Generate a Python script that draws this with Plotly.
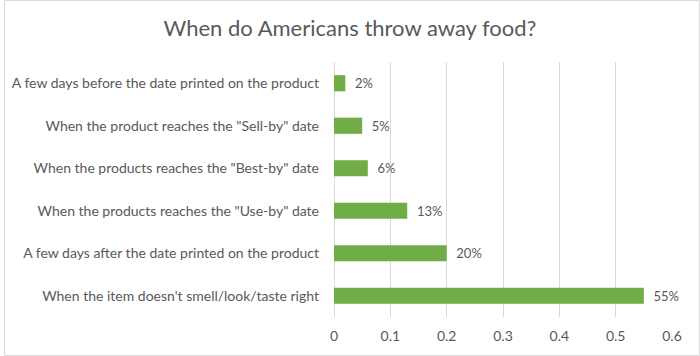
import plotly.graph_objects as go

categories = [
    "When the item doesn't smell/look/taste right",
    "A few days after the date printed on the product",
    'When the products reaches the "Use-by" date',
    'When the products reaches the "Best-by" date',
    'When the product reaches the "Sell-by" date',
    "A few days before the date printed on the product",
]
values = [0.55, 0.20, 0.13, 0.06, 0.05, 0.02]
labels = ["55%", "20%", "13%", "6%", "5%", "2%"]
tick_vals = [0, 0.1, 0.2, 0.3, 0.4, 0.5, 0.6]
tick_text = ["0", "0.1", "0.2", "0.3", "0.4", "0.5", "0.6"]

W, H = 700, 356
L, R, T, B = 332, 28, 62, 39
pw, ph = W - L - R, H - T - B

FONT = "Lato, Open Sans, sans-serif"
GRAY = "#595959"

fig = go.Figure(go.Bar(
    x=values, y=categories, orientation="h",
    marker=dict(color="#70AD47", line=dict(width=0)),
    text=["\u00a0\u00a0" + s for s in labels], textposition="outside", cliponaxis=False,
    textfont=dict(family=FONT, size=13, color=GRAY),
))

fig.update_layout(
    width=W, height=H,
    margin=dict(l=L, r=R, t=T, b=B, pad=0),
    paper_bgcolor="white", plot_bgcolor="white",
    bargap=0.62,
    showlegend=False,
    title=dict(text="When do Americans throw away food?", x=0.5, xanchor="center",
               y=1 - 28 / H, yanchor="middle",
               font=dict(family=FONT, size=22, color=GRAY)),
    xaxis=dict(range=[0, 0.6], tickvals=tick_vals, ticktext=tick_text,
               showgrid=True, gridcolor="#D9D9D9", gridwidth=1,
               zeroline=True, zerolinecolor="#D9D9D9", zerolinewidth=1,
               showline=False, ticks="", ticklen=0, ticklabelstandoff=9,
               tickfont=dict(family=FONT, size=14, color=GRAY)),
    yaxis=dict(showgrid=False, showline=False, ticks="", ticklen=0,
               ticklabelstandoff=14,
               tickfont=dict(family=FONT, size=14, color=GRAY)),
    shapes=[dict(type="rect", xref="paper", yref="paper",
                 x0=(0.5 - L) / pw, x1=(W - 0.5 - L) / pw,
                 y0=(H - B - (H - 0.5)) / ph, y1=(H - B - 0.5) / ph,
                 line=dict(color="#D9D9D9", width=1), layer="below")],
)

fig.write_html("out.html", config={"displayModeBar": False},
               post_script="document.body.style.margin='0';")
